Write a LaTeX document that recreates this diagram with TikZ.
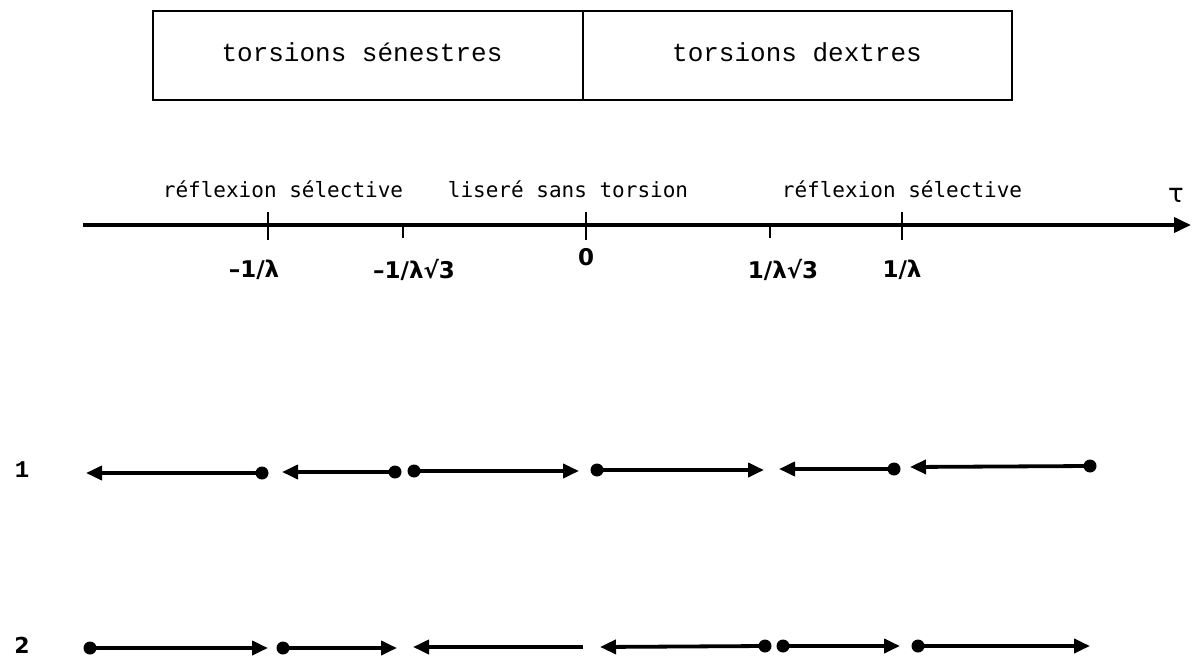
\documentclass[tikz,border=0pt]{standalone}
\usepackage{fontspec}
\setmainfont{Liberation Serif}
\newfontfamily\courier{Liberation Mono}
\newfontfamily\typew{DejaVu Sans Mono}
\newfontfamily\dvsb{DejaVu Sans Bold}
\newfontfamily\dvs{DejaVu Sans}
\usetikzlibrary{arrows.meta}
\begin{document}
\begin{tikzpicture}[x=1pt,y=-1pt,
  boxtext/.style={font=\courier\fontsize{26}{28}\selectfont, inner sep=0pt},
  axlabel/.style={font=\typew\fontsize{21}{23}\selectfont, inner sep=0pt, anchor=base},
  vallabel/.style={font=\dvsb\fontsize{23}{25}\selectfont, inner sep=0pt},
  rowlabel/.style={inner sep=0pt},
  axisline/.style={line width=3.8pt, -{Triangle[length=17pt,width=15pt]}},
  tick/.style={line width=2.2pt},
  seg/.style={line width=3.8pt},
  arr/.style={seg, -{Triangle[length=16pt,width=14pt]}},
  dot/.style={circle, fill=black, inner sep=0pt, minimum size=13pt}
]
\useasboundingbox (0,0) rectangle (1192,658);
% top box
\draw[line width=2pt] (153,11) rectangle (1012,100);
\draw[line width=1.5pt] (583,11) -- (583,100);
\node[boxtext] (sen) at (362,52) {torsions sénestres};
\node[boxtext] (dex) at (797,52) {torsions dextres};
% axis
\coordinate (axL) at (83,225);
\coordinate (axR) at (1191,225);
\draw[axisline] (axL) -- (axR);
\foreach \x in {268,586,902} \draw[tick] (\x,212) -- (\x,240);
\foreach \x in {403,770} \draw[tick] (\x,225) -- (\x,238);
\node[axlabel] (rs1) at (283,197) {réflexion sélective};
\node[axlabel] (lst) at (568,197) {liseré sans torsion};
\node[axlabel] (rs2) at (902,197) {réflexion sélective};
\node[font=\dvs\fontsize{26}{28}\selectfont, inner sep=0pt] (tau) at (1176,195) {τ};
\node[vallabel] (v1) at (254,270) {–1/λ};
\node[vallabel] (v2) at (414,270) {–1/λ√3};
\node[vallabel] (v3) at (586,257) {0};
\node[vallabel] (v4) at (783,270) {1/λ√3};
\node[vallabel] (v5) at (902,270) {1/λ};
% row 1
\node[rowlabel, font=\courier\bfseries\fontsize{24}{26}\selectfont] (r1) at (22,470) {1};
\coordinate (a1t) at (86,473);  \node[dot] (a1d) at (262,473) {};
\coordinate (a2t) at (282,472); \node[dot] (a2d) at (395,472) {};
\node[dot] (a3d) at (414,471) {}; \coordinate (a3t) at (579,471);
\node[dot] (a4d) at (597,470) {}; \coordinate (a4t) at (764,470);
\coordinate (a5t) at (779,469); \node[dot] (a5d) at (894,469) {};
\coordinate (a6t) at (910,467); \node[dot] (a6d) at (1090,466) {};
\draw[arr] (a1d.center) -- (a1t);
\draw[arr] (a2d.center) -- (a2t);
\draw[arr] (a3d.center) -- (a3t);
\draw[arr] (a4d.center) -- (a4t);
\draw[arr] (a5d.center) -- (a5t);
\draw[arr] (a6d.center) -- (a6t);
% row 2
\node[rowlabel, font=\dvsb\fontsize{22}{24}\selectfont] (r2) at (22,645) {2};
\node[dot] (b1d) at (90,648) {};  \coordinate (b1t) at (268,648);
\node[dot] (b2d) at (283,648) {}; \coordinate (b2t) at (397,648);
\coordinate (b3e) at (583,647); \coordinate (b3t) at (413,647);
\coordinate (b4t) at (600,647); \node[dot] (b4d) at (765,646) {};
\node[dot] (b5d) at (783,646) {}; \coordinate (b5t) at (900,646);
\node[dot] (b6d) at (918,646) {}; \coordinate (b6t) at (1090,646);
\draw[arr] (b1d.center) -- (b1t);
\draw[arr] (b2d.center) -- (b2t);
\draw[arr] (b3e) -- (b3t);
\draw[arr] (b4d.center) -- (b4t);
\draw[arr] (b5d.center) -- (b5t);
\draw[arr] (b6d.center) -- (b6t);
\end{tikzpicture}
\end{document}
